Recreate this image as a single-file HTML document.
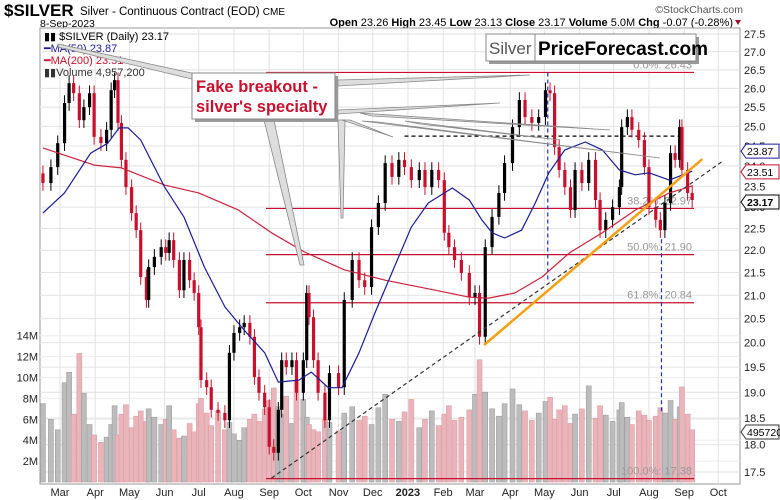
<!DOCTYPE html>
<html><head><meta charset="utf-8"><style>
html,body{margin:0;padding:0;background:#fff;}
svg{display:block;font-family:"Liberation Sans",sans-serif;}
</style></head><body>
<svg id="chart" width="780" height="500" viewBox="0 0 780 500" xmlns="http://www.w3.org/2000/svg">
<g id="header">
<text x="4" y="16" font-size="17" font-weight="bold">$SILVER</text>
<text x="80" y="15" font-size="11.5">Silver - Continuous Contract (EOD) <tspan font-size="10">CME</tspan></text>
<text x="743" y="13" font-size="10.5" fill="#555" text-anchor="end">©StockCharts.com</text>
<text x="40" y="27" font-size="10.5">8-Sep-2023</text>
<text x="733" y="26" font-size="11" text-anchor="end"><tspan font-weight="bold">Open</tspan> 23.26 <tspan font-weight="bold">High</tspan> 23.45 <tspan font-weight="bold">Low</tspan> 23.13 <tspan font-weight="bold">Close</tspan> 23.17 <tspan font-weight="bold">Volume</tspan> 5.0M <tspan font-weight="bold">Chg</tspan> -0.07 (-0.28%)</text>
<path d="M735,20 L741,20 L738,25 Z" fill="#a01030"/>
</g>
<rect x="40" y="28" width="700" height="456" fill="#fff" stroke="#999"/>
<g id="grid"></g>
<g id="vol"></g>
<g id="annot-under"></g>
<g id="price"></g>
<g id="ma"></g>
<g id="annot"></g>
<g id="axes"></g>
<g id="legend" font-size="11">
<text x="44" y="40">▮▮ $SILVER (Daily) 23.17</text>
<text x="44" y="52" fill="#1a1a9a">━MA(50) 23.87</text>
<text x="44" y="64" fill="#c8102e">━MA(200) 23.51</text>
<text x="44" y="76" fill="#333">▮▮Volume 4,957,200</text>
</g>
<g id="callout">
<polygon points="58,44 196,74 196,80 58,47" fill="#ddd" stroke="#888" stroke-width="0.8"/>
<polygon points="264,120 274,120 304,265 300,265" fill="#ddd" stroke="#888" stroke-width="0.8"/>
<polygon points="338,120 345,120 343,218 341,218" fill="#ddd" stroke="#888" stroke-width="0.8"/>
<polygon points="338,80 338,86 530,75" fill="#ddd" stroke="#888" stroke-width="0.8"/>
<polygon points="338,110 338,114 500,103" fill="#ddd" stroke="#888" stroke-width="0.8"/>
<polygon points="342,120 350,120 393,137" fill="#ddd" stroke="#888" stroke-width="0.8"/>
<polygon points="360,113 372,116 610,130" fill="#ddd" stroke="#888" stroke-width="0.8"/>
<polygon points="362,121 378,122 660,158" fill="#ddd" stroke="#888" stroke-width="0.8"/>
<polygon points="405,121 420,124 560,140" fill="#ddd" stroke="#888" stroke-width="0.8"/>
<rect x="195" y="76" width="143" height="46" fill="#999"/>
<rect x="192" y="73" width="143" height="46" fill="#fff" stroke="#888"/>
<text x="196" y="92" font-size="16.5" font-weight="bold" fill="#c8102e">Fake breakout -</text>
<text x="196" y="112" font-size="16.5" font-weight="bold" fill="#c8102e">silver's specialty</text>
</g>
<g id="watermark">
<rect x="489" y="37" width="210" height="27" fill="#999"/>
<rect x="486" y="34" width="210" height="27" fill="#fff" stroke="#888"/>
<line x1="535" y1="34" x2="535" y2="61" stroke="#888"/>
<text x="489" y="54" font-size="17" fill="#555">Silver</text>
<text x="538" y="55" font-size="19" font-weight="bold" fill="#000">PriceForecast.com</text>
</g>
</svg>
<script>
const priceDays=[-15,-8,-2,4,8,12,17,21,26,30,36,41,45,48,51,54,58,63,67,71,76,78,83,89,93,96,100,105,109,114,118,122,124,129,133,139,145,149,153,158,162,167,171,175,180,184,188,192,195,199,204,208,214,217,219,223,227,233,237,245,250,257,263,268,274,280,286,292,298,303,309,316,321,327,333,338,342,347,353,360,365,369,374,380,386,391,398,404,409,415,421,427,431,435,439,444,449,453,459,465,471,475,480,486,492,494,499,503,509,514,518,524,528,532,537,541,545,547,552,556];
const closes=[23.58,23.97,24.57,25.61,26.14,25.87,25.16,25.50,25.87,24.73,24.57,24.91,25.95,26.22,25.09,24.15,23.48,22.86,22.46,21.40,20.90,21.62,21.85,22.07,21.94,22.23,21.78,21.11,21.78,21.33,21.05,20.32,19.24,19.10,18.66,18.60,18.46,19.79,20.20,20.32,20.41,20.12,19.30,18.99,18.71,17.96,17.85,18.66,19.64,19.50,19.64,18.99,19.64,21.05,20.53,19.64,18.99,18.46,19.38,19.10,20.90,21.78,21.33,21.18,22.53,23.10,24.07,23.73,24.15,23.97,23.65,23.90,23.48,23.90,23.65,22.40,22.07,21.78,21.49,20.96,21.05,20.12,22.07,22.77,23.34,24.07,24.98,25.69,25.24,25.09,25.24,25.95,25.87,24.47,23.90,23.48,22.93,23.90,23.58,24.15,23.17,22.46,22.70,23.00,23.48,24.98,25.24,24.91,24.65,23.97,23.00,22.70,22.46,23.10,24.32,24.15,24.98,23.90,23.34,23.17];
const volumes=[7.5,6,5,9.5,10.5,6.5,12.3,8.5,5.5,4.5,3.8,4.3,5.5,7.3,4.5,6.5,7.4,5.2,6.3,6.8,
5.8,7.0,6.2,5.5,6.0,7.3,5.0,4.2,4.4,5.6,4.8,7.5,8.0,6.6,5.4,6.8,5.0,5.7,4.6,4.0,
5.2,6.0,6.5,5.8,7.0,7.8,9.0,7.2,6.5,8.2,5.6,9.6,7.9,6.2,5.5,5.0,4.8,6.0,5.7,4.9,
6.6,7.2,5.9,6.3,5.5,7.1,8.4,6.0,5.8,6.7,7.9,5.2,6.0,6.8,5.4,6.5,7.3,5.9,6.2,6.9,
8.4,11.7,8.6,7.0,6.3,7.5,8.9,7.4,6.8,5.9,6.6,7.7,8.1,6.0,6.9,7.3,5.6,6.5,7.0,9.2,
6.1,7.3,6.4,5.8,6.9,7.6,6.2,5.5,6.8,6.4,5.9,6.3,7.1,6.6,7.8,6.0,7.2,9.1,6.5,5.0];
const ma50Days=[-15,4,27,42,52,60,71,92,109,127,145,162,180,192,210,221,236,248,263,277,294,309,324,345,360,371,380,391,406,418,430,444,462,477,492,506,518,536,556];
const ma50Values=[22.86,23.34,24.32,24.57,24.96,24.96,24.65,23.48,22.77,21.62,20.75,20.26,19.79,19.20,19.24,19.40,19.09,19.09,19.79,20.62,21.62,22.53,23.10,23.46,23.17,22.70,22.40,22.28,22.46,23.10,23.83,24.40,24.60,24.40,23.90,23.78,23.83,23.65,23.87];
const ma200Days=[-15,30,54,92,122,157,186,215,250,286,330,360,377,400,424,448,477,506,536,556];
const ma200Values=[24.45,24.02,23.95,23.53,23.34,22.93,22.40,21.96,21.56,21.33,21.11,20.96,20.94,21.05,21.40,21.94,22.40,22.93,23.34,23.51];
const fibLevels=[26.43,22.97,21.90,20.84,17.38];
const fibLabels=["0.0%: 26.43","38.2%: 22.97","50.0%: 21.90","61.8%: 20.84","100.0%: 17.38"];
const priceTicks=[17.5,18,18.5,19,19.5,20,20.5,21,21.5,22,22.5,23,23.5,24,24.5,25,25.5,26,26.5,27,27.5];
const volTicks=[2,4,6,8,10,12,14];
const volTickLabels=["2M","4M","6M","8M","10M","12M","14M"];
const monthLabels=["Mar","Apr","May","Jun","Jul","Aug","Sep","Oct","Nov","Dec","2023","Feb","Mar","Apr","May","Jun","Jul","Aug","Sep","Oct"];
const monthDays=[0,31,61,92,122,153,184,214,245,275,306,337,365,396,426,457,487,518,549,579];
const dashedTrend=[[186,17.39],[584,24.14]];
const orangeTrend=[[373,19.95],[565,24.17]];

const NS="http://www.w3.org/2000/svg";
const X0=40,X1=740,Y0=28,Y1=484;
function xD(d){return 60+d*1.137;}
function yP(p){return 34+969*(Math.log(27.5)-Math.log(p));}
function yV(v){return 482-v*10.45;}
function mk(tag,attrs,parent){const e=document.createElementNS(NS,tag);for(const k in attrs)e.setAttribute(k,attrs[k]);parent.appendChild(e);return e;}
const G=id=>document.getElementById(id);

const grid=G('grid');
priceTicks.forEach(p=>{const l=mk('line',{x1:X0,x2:X1,y1:yP(p),y2:yP(p),stroke:'#e2e2e2'},grid);

});
volTicks.forEach(v=>{const l=mk('line',{x1:X0,x2:X1,y1:yV(v),y2:yV(v),stroke:'#ededed'},grid);

});
monthDays.forEach(d=>{const l=mk('line',{x1:xD(d),x2:xD(d),y1:Y0,y2:Y1,stroke:'#e2e2e2'},grid);

});

const vol=G('vol');
volumes.forEach((v,i)=>{const up=i===0||closes[i]>=closes[i-1];
const r=mk('rect',{x:xD(priceDays[i])-2.5,y:yV(v),width:5,height:482-yV(v),fill:up?'#bcbcbc':'#eab4bb',stroke:up?'#959595':'#d8959d','stroke-width':0.5},vol);

});

const au=G('annot-under');
fibLevels.forEach((f,i)=>{const l=mk('line',{x1:266,x2:694,y1:yP(f),y2:yP(f),stroke:'#c8102e','stroke-width':1.2},au);


const t=mk('text',{x:692,y:yP(f)-4,'font-size':11,fill:'#999','text-anchor':'end'},au);t.textContent=fibLabels[i];

});
[[429,26.43,21.29],[529,22.25,18.55]].forEach(v=>{const l=mk('line',{x1:xD(v[0]),x2:xD(v[0]),y1:yP(v[1]),y2:v[2]>19?yP(v[2]):412,stroke:'#1a2fd0','stroke-dasharray':'4,3','stroke-width':1.2},au);

});
const hz=mk('line',{x1:xD(303),x2:xD(544),y1:yP(24.75),y2:yP(24.75),stroke:'#000','stroke-dasharray':'4,3','stroke-width':1.2},au);



const pr=G('price');
closes.forEach((c,i)=>{const o=i===0?c*1.01:closes[i-1];const up=c>=o;const col=up?'#000':'#c8102e';const x=xD(priceDays[i]);
const hi=Math.max(o,c)*1.008,lo=Math.min(o,c)*0.992;
const w=mk('line',{x1:x,x2:x,y1:yP(hi),y2:yP(lo),stroke:col,'stroke-width':1},pr);


const b=mk('rect',{x:x-1.6,y:yP(Math.max(o,c)),width:3.2,height:Math.max(1,yP(Math.min(o,c))-yP(Math.max(o,c))),fill:col},pr);

});

const ma=G('ma');
function line(days,vals,col,name){const d=days.map((dd,i)=>(i?'L':'M')+xD(dd).toFixed(1)+','+yP(vals[i]).toFixed(1)).join(' ');
const p=mk('path',{d:d,fill:'none',stroke:col,'stroke-width':1.2,'stroke-linejoin':'round'},ma);

}
line(ma200Days,ma200Values,'#d0203c','ma200-line');
line(ma50Days,ma50Values,'#1a1a9a','ma50-line');

const an=G('annot');
const dt=mk('line',{x1:xD(dashedTrend[0][0]),y1:yP(dashedTrend[0][1]),x2:xD(dashedTrend[1][0]),y2:yP(dashedTrend[1][1]),stroke:'#333','stroke-dasharray':'4,3','stroke-width':1.2},an);


const ot=mk('line',{x1:xD(orangeTrend[0][0]),y1:yP(orangeTrend[0][1]),x2:xD(orangeTrend[1][0]),y2:yP(orangeTrend[1][1]),stroke:'#f5a011','stroke-width':2.5},an);



const ax=G('axes');
priceTicks.forEach(p=>{const t=mk('text',{x:744,y:yP(p)+4,'font-size':11,fill:'#222'},ax);t.textContent=p.toFixed(1);

});
volTicks.forEach((v,i)=>{const t=mk('text',{x:38,y:yV(v)+4,'font-size':11,fill:'#222','text-anchor':'end'},ax);t.textContent=volTickLabels[i];

});
monthLabels.forEach((m,i)=>{const t=mk('text',{x:xD(monthDays[i]),y:496,'font-size':11,fill:'#222','text-anchor':'middle','font-weight':m==='2023'?'bold':'normal'},ax);t.textContent=m;

});
function tag(v,y,col,bold,name){const g=mk('g',{},ax);


mk('path',{d:`M741,${y} L746,${y-7} L779,${y-7} L779,${y+7} L746,${y+7} Z`,fill:'#fff',stroke:col},g);
const t=mk('text',{x:747,y:y+4,'font-size':10.5,fill:'#000','font-weight':bold?'bold':'normal'},g);t.textContent=v;}
tag('23.87',yP(23.87)-20,'#1a1a9a',false,'ma50-value-tag');
tag('23.51',yP(23.51)-14,'#c8102e',false,'ma200-value-tag');
tag('23.17',yP(23.17)+2,'#000',true,'close-value-tag');
tag('4957200',432,'#333',false,'volume-value-tag');
</script>
</body></html>
